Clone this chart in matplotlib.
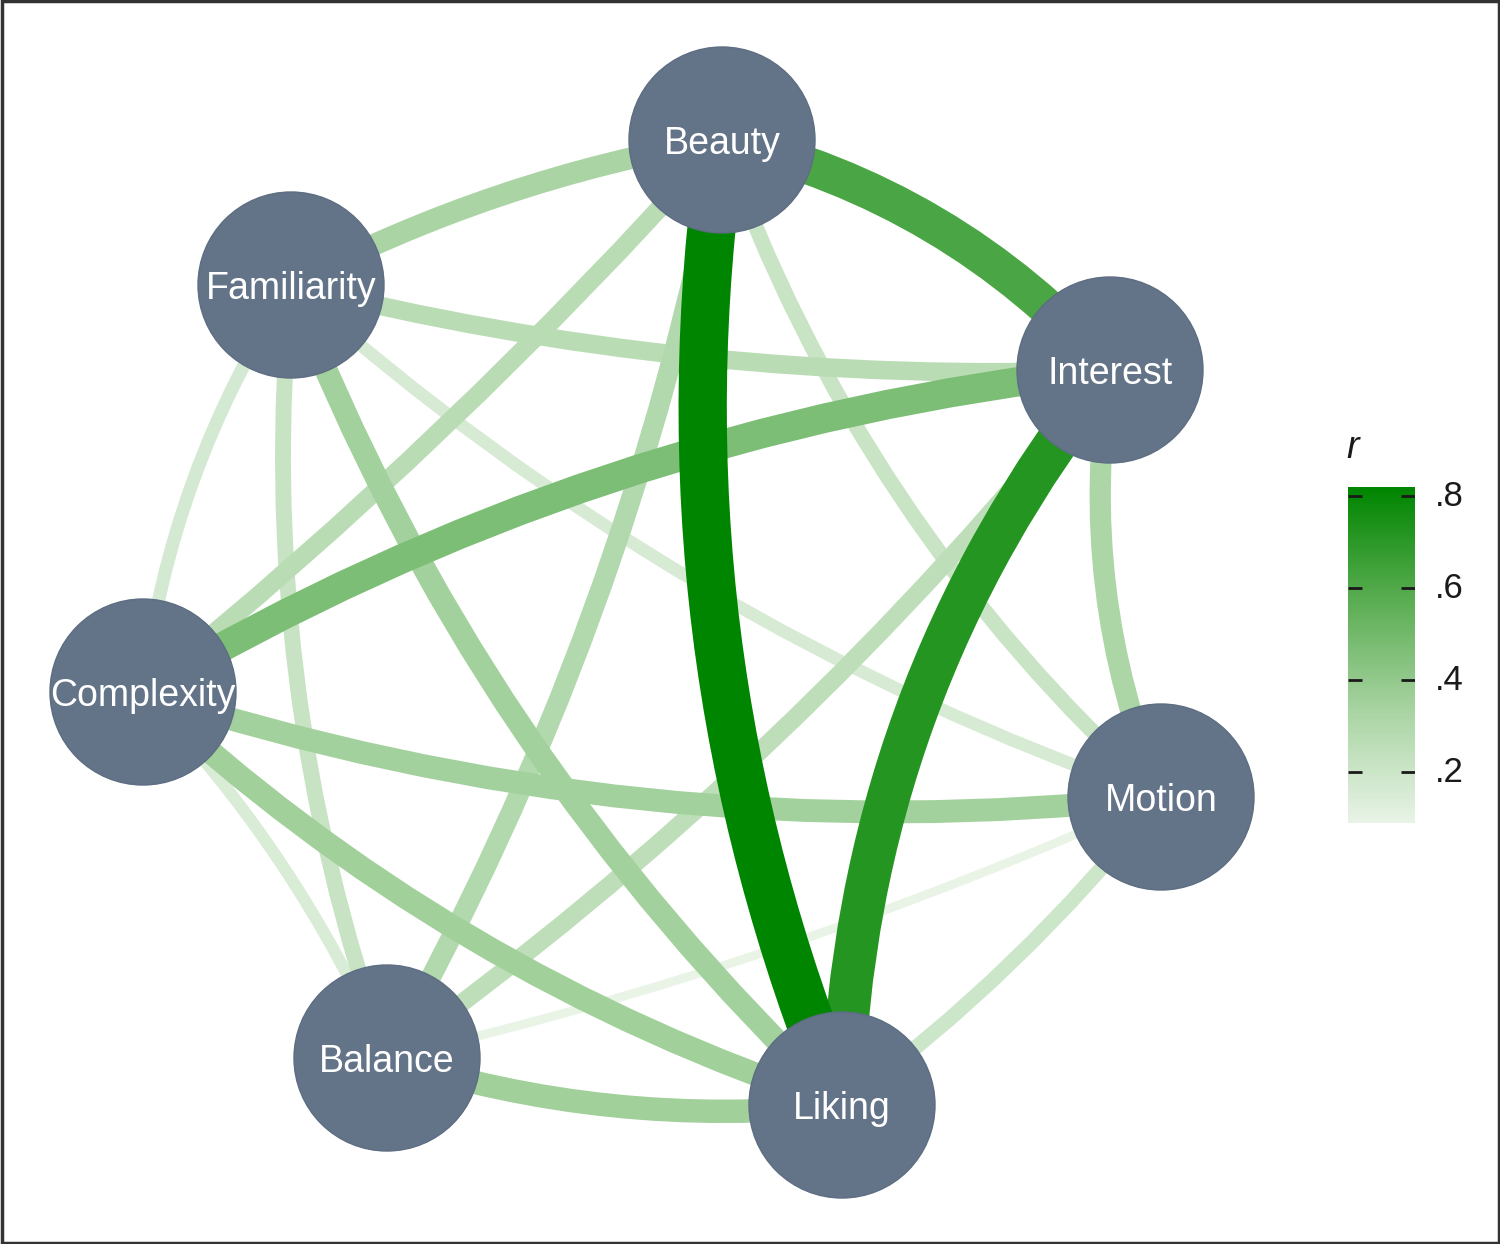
import numpy as np
import matplotlib
matplotlib.use("Agg")
import matplotlib.pyplot as plt
from matplotlib.path import Path
from matplotlib.patches import PathPatch, Circle, Rectangle
from matplotlib.colors import LinearSegmentedColormap, Normalize

plt.rcParams['font.family'] = ['Liberation Sans', 'DejaVu Sans']

# Nodes (layout coordinates)
nodes = ["Beauty", "Familiarity", "Interest", "Complexity", "Motion", "Balance", "Liking"]
node_x = [722, 291, 1110, 143, 1161, 387, 842]
node_y = [140, 285, 370, 692, 797, 1058, 1105]

# Edges: pairs and correlation r
edge_from = ["Beauty", "Interest", "Beauty", "Interest", "Beauty", "Familiarity", "Beauty",
             "Beauty", "Beauty", "Familiarity", "Familiarity", "Familiarity", "Familiarity",
             "Interest", "Interest", "Complexity", "Complexity", "Complexity", "Motion",
             "Motion", "Balance"]
edge_to = ["Liking", "Liking", "Interest", "Complexity", "Familiarity", "Interest", "Complexity",
           "Balance", "Motion", "Complexity", "Balance", "Liking", "Motion",
           "Motion", "Balance", "Motion", "Liking", "Balance", "Liking",
           "Balance", "Liking"]
edge_r = [0.82, 0.72, 0.62, 0.47, 0.33, 0.27, 0.27,
          0.30, 0.21, 0.17, 0.22, 0.35, 0.16,
          0.32, 0.26, 0.35, 0.36, 0.15, 0.20,
          0.09, 0.36]

# curvature of each edge (fraction of chord length, signed)
edge_bend = [0.068, 0.083, -0.078, 0.054, 0.04, 0.036, -0.02,
             -0.041, 0.063, 0.058, 0.055, 0.056, 0.05,
             0.07, -0.035, 0.054, 0.055, -0.045, -0.034,
             -0.025, 0.053]

W, H = 1500, 1244
fig = plt.figure(figsize=(W / 100, H / 100), dpi=100)
ax = fig.add_axes([0, 0, 1, 1])
ax.set_xlim(0, W)
ax.set_ylim(H, 0)
ax.set_aspect('equal')
ax.axis('off')

cmap = LinearSegmentedColormap.from_list("grn", ["#e9f4e7", "#a9d4a3", "#5aad52", "#008500"])
norm = Normalize(vmin=min(edge_r), vmax=max(edge_r))

pos = {n: (x, y) for n, x, y in zip(nodes, node_x, node_y)}
px2pt = 72 / 100

order = np.argsort(edge_r)
for i in order:
    x0, y0 = pos[edge_from[i]]
    x1, y1 = pos[edge_to[i]]
    dx, dy = x1 - x0, y1 - y0
    mx, my = (x0 + x1) / 2, (y0 + y1) / 2
    # control point offset is twice the midpoint offset for a quadratic bezier
    cx = mx + 2 * edge_bend[i] * (-dy)
    cy = my + 2 * edge_bend[i] * dx
    path = Path([(x0, y0), (cx, cy), (x1, y1)], [Path.MOVETO, Path.CURVE3, Path.CURVE3])
    width = (4 + 54 * edge_r[i]) * px2pt
    ax.add_patch(PathPatch(path, fill=False, edgecolor=cmap(norm(edge_r[i])),
                           linewidth=width, capstyle='butt', zorder=2))

for n in nodes:
    x, y = pos[n]
    ax.add_patch(Circle((x, y), 93, facecolor="#637388", edgecolor="#5d6d82",
                        linewidth=1, zorder=3))
    ax.text(x, y + 4, n, color="white", fontsize=27, ha='center', va='center', zorder=4)

# colour legend
cax = fig.add_axes([1348 / W, (H - 823) / H, 67 / W, 336 / H])
vmin, vmax = norm.vmin, norm.vmax
grad = np.linspace(vmin, vmax, 256).reshape(-1, 1)
cax.imshow(grad, cmap=cmap, norm=norm, aspect='auto', origin='lower',
           extent=[0, 1, vmin, vmax])
cax.set_xlim(0, 1)
cax.set_ylim(vmin, vmax)
cax.axis('off')
ticks = [0.2, 0.4, 0.6, 0.8]
for t in ticks:
    cax.plot([0, 0.21], [t, t], color="#1a1a1a", lw=2.0, solid_capstyle='butt')
    cax.plot([0.79, 1], [t, t], color="#1a1a1a", lw=2.0, solid_capstyle='butt')
    cax.text(1.3, t, ("%.1f" % t).lstrip("0"), fontsize=25, ha='left', va='center',
             color="#1a1a1a", transform=cax.transData, clip_on=False)
fig.text(1346 / W, 1 - 448 / H, "r", fontsize=27, style='italic', ha='left',
         va='center', color="#1a1a1a")

# outer frame
fig.patches.append(Rectangle((0.001, 0.001), 0.998, 0.998, transform=fig.transFigure,
                             fill=False, edgecolor="#333333", linewidth=2.5))

fig.savefig("out.png", dpi=100)
